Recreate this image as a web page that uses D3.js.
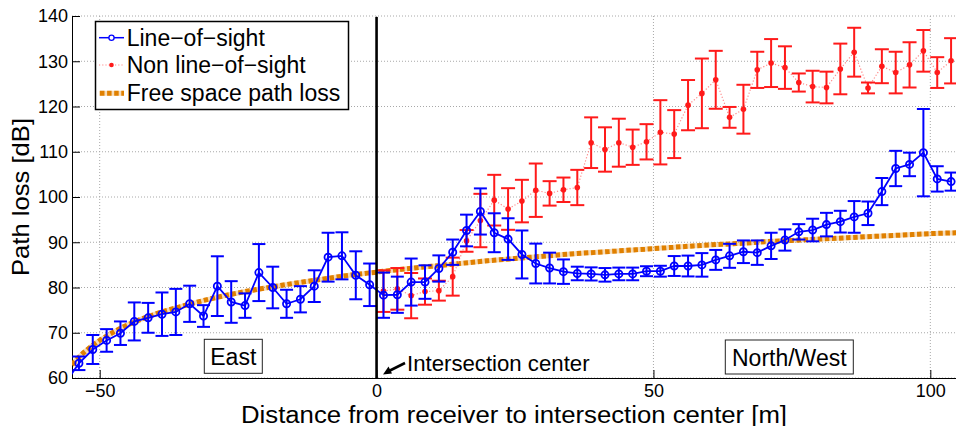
<!DOCTYPE html>
<html><head><meta charset="utf-8">
<script src="https://cdn.jsdelivr.net/npm/d3@7/dist/d3.min.js"></script>
<style>
body{margin:0;background:#fff;}
svg{display:block;font-family:"Liberation Sans",Arial,Helvetica,sans-serif;}
</style></head>
<body>
<svg id="c" width="956" height="426"></svg>
<script>
// ---------------- data ----------------
const xTicks = [-50, 0, 50, 100];
const xTickLabels = ["\u221250", "0", "50", "100"];
const yTicks = [60, 70, 80, 90, 100, 110, 120, 130, 140];
const yTickLabels = ["60","70","80","90","100","110","120","130","140"];

const losX = [-56.25,-53.75,-51.25,-48.75,-46.25,-43.75,-41.25,-38.75,-36.25,-33.75,-31.25,-28.75,-26.25,-23.75,-21.25,-18.75,-16.25,-13.75,-11.25,-8.75,-6.25,-3.75,-1.25,
  1.25,3.75,6.25,8.75,11.25,13.75,16.25,18.75,21.25,23.75,26.25,28.75,31.25,33.75,36.25,38.75,41.25,43.75,46.25,48.75,
  51.25,53.75,56.25,58.75,61.25,63.75,66.25,68.75,71.25,73.75,76.25,78.75,81.25,83.75,86.25,88.75,91.25,93.75,96.25,98.75,101.25,103.75];
const losY = [58.8,63.25,66.3,68.3,69.9,72.5,73.3,74.1,74.6,76.4,73.7,80.3,76.8,76.0,83.3,80.0,76.4,77.4,80.3,86.7,87.0,82.7,80.6,
  78.3,78.4,81.2,81.2,84.2,87.8,92.6,96.8,92.1,90.7,87.3,85.3,84.3,83.5,83.1,83.0,82.8,83.0,83.0,83.6,
  83.6,84.75,84.75,85.0,86.1,87.0,87.9,87.7,89.2,90.5,92.3,92.7,93.9,94.55,95.6,96.4,101.2,106.3,107.2,109.8,104.0,103.4];
const losErr = [0,1.5,3.2,2.5,2.6,4.2,3.3,4.8,5.1,4.0,2.4,6.6,4.6,2.7,6.3,4.6,3.1,2.9,3.5,5.4,5.2,5.3,4.7,
  5.0,4.0,5.2,3.7,2.9,2.8,3.5,5.1,4.3,4.6,5.3,4.4,3.4,2.7,1.5,1.45,1.5,1.4,1.4,1.1,
  1.2,2.2,2.3,2.6,2.2,2.65,2.5,2.7,2.9,2.35,1.7,2.5,2.6,2.4,3.5,2.6,3.0,3.9,2.6,9.65,2.8,2.0];

const nlosX = [1.25,3.75,6.25,8.75,11.25,13.75,16.25,18.75,21.25,23.75,26.25,28.75,31.25,33.75,36.25,38.75,41.25,43.75,46.25,48.75,
  51.25,53.75,56.25,58.75,61.25,63.75,66.25,68.75,71.25,73.75,76.25,78.75,81.25,83.75,86.25,88.75,91.25,93.75,96.25,98.75,101.25,103.75];
const nlosY = [79.2,79.7,78.2,79.1,79.3,82.4,90.3,94.8,99.3,97.35,99.1,101.5,100.8,101.6,102.1,112.0,110.5,112.0,111.0,112.2,
  114.3,113.9,120.3,122.9,125.9,117.6,119.4,128.1,129.6,128.6,125.3,124.4,124.2,128.3,132.0,124.1,128.9,127.5,129.2,132.3,127.5,130.1];
const nlosErr = [4.6,4.6,5.0,2.9,2.2,4.2,2.4,5.9,5.6,4.6,4.7,5.9,2.7,2.7,3.9,5.6,4.9,5.3,3.9,3.9,
  7.1,5.3,5.55,7.7,6.4,2.3,5.4,4.0,5.3,4.7,2.0,3.5,3.5,5.6,5.4,1.2,3.75,4.6,5.0,4.6,3.4,5.0];

const fsplX = [-55,-53.75,-52.5,-50,-47.5,-45,-40,-35,-30,-25,-20,-15,-10,-5,0,5,10,15,20,25,30,35,40,45,50,55,60,65,70,75,80,85,90,95,100,105];
const fsplY = [62.9,64.6,66.0,68.3,70.15,71.7,74.1,75.9,77.5,78.8,79.9,80.9,81.8,82.7,83.4,84.1,84.7,85.3,85.9,86.4,86.9,87.4,87.8,88.2,88.6,89.0,89.4,89.7,90.1,90.4,90.7,91.0,91.3,91.6,91.9,92.1];

const seriesNames = ["Line\u2212of\u2212sight", "Non line\u2212of\u2212sight", "Free space path loss"];
const regionLabels = ["East", "North/West"];
const xLabel = "Distance from receiver to intersection center [m]";
const yLabel = "Path loss [dB]";
const annotation = "Intersection center";

// ---------------- chart ----------------
const BLUE = "#0000ff", RED = "#ff1a1a", ORANGE = "#e08000";
const svg = d3.select("#c");
const L = 72, R = 958, T = 16, B = 378;
const x = d3.scaleLinear().domain([-55, 105]).range([L, R]);
const y = d3.scaleLinear().domain([60, 140]).range([B, T]);

svg.append("defs").append("clipPath").attr("id","clip")
  .append("rect").attr("x", L).attr("y", T-2).attr("width", R-L).attr("height", B-T+2);

// grid
const grid = svg.append("g");
grid.selectAll(".gy").data(yTicks).join("line")
  .attr("x1", L).attr("x2", 956).attr("y1", d=>y(d)).attr("y2", d=>y(d))
  .attr("stroke", "#a8a8a8").attr("stroke-width", 1).attr("stroke-dasharray", "1,2");
grid.selectAll(".gx").data(xTicks).join("line")
  .attr("x1", d=>x(d)).attr("x2", d=>x(d)).attr("y1", T).attr("y2", B)
  .attr("stroke", "#a8a8a8").attr("stroke-width", 1).attr("stroke-dasharray", "1,2");

// axes
const yAxis = d3.axisLeft(y).tickValues(yTicks).tickFormat((d,i)=>yTickLabels[i]).tickSize(-8).tickSizeOuter(0).tickPadding(4);
const gy = svg.append("g").attr("transform", `translate(${L},0)`).call(yAxis);
const xAxis = d3.axisBottom(x).tickValues(xTicks).tickFormat((d,i)=>xTickLabels[i]).tickSize(-8).tickSizeOuter(0).tickPadding(6.5);
const gx = svg.append("g").attr("transform", `translate(0,${B})`).call(xAxis);
[gx, gy].forEach(g=>{
  g.selectAll("text").attr("font-size", 18).attr("fill", "#000").attr("font-family", null);
  g.selectAll("line,path").attr("stroke", "#000");
  g.attr("font-family", null);
});
gx.select(".domain").attr("d", `M${L},0.5H956`);

const plot = svg.append("g").attr("clip-path", "url(#clip)");

// FSPL
const fsplData = fsplX.map((d,i)=>[d, fsplY[i]]);
const fLine = d3.line().x(d=>x(d[0])).y(d=>y(d[1])).curve(d3.curveMonotoneX);
plot.append("path").attr("d", fLine(fsplData)).attr("fill","none")
  .attr("stroke", ORANGE).attr("stroke-opacity", 0.28).attr("stroke-width", 5);
plot.append("path").attr("d", fLine(fsplData)).attr("fill","none")
  .attr("stroke", ORANGE).attr("stroke-width", 5).attr("stroke-dasharray", "4.5,2.6");

// NLOS
const nlosData = nlosX.map((d,i)=>({x:d, y:nlosY[i], e:nlosErr[i]}));
plot.append("path").attr("d", d3.line().x(d=>x(d.x)).y(d=>y(d.y))(nlosData))
  .attr("fill","none").attr("stroke", "#ff8a8a").attr("stroke-width", 1.2).attr("stroke-dasharray", "1.2,2");
const ne = plot.append("g").attr("stroke", RED).attr("stroke-width", 2);
nlosData.forEach(d=>{
  ne.append("line").attr("x1", x(d.x)).attr("x2", x(d.x)).attr("y1", y(d.y-d.e)).attr("y2", y(d.y+d.e));
  ne.append("line").attr("x1", x(d.x)-7).attr("x2", x(d.x)+7).attr("y1", y(d.y-d.e)).attr("y2", y(d.y-d.e));
  ne.append("line").attr("x1", x(d.x)-7).attr("x2", x(d.x)+7).attr("y1", y(d.y+d.e)).attr("y2", y(d.y+d.e));
});
plot.append("g").selectAll("circle").data(nlosData).join("circle")
  .attr("cx", d=>x(d.x)).attr("cy", d=>y(d.y)).attr("r", 2.8).attr("fill", RED);

// LOS
const losData = losX.map((d,i)=>({x:d, y:losY[i], e:losErr[i]}));
const le = plot.append("g").attr("stroke", BLUE).attr("stroke-width", 2);
losData.forEach(d=>{
  if (!d.e) return;
  le.append("line").attr("x1", x(d.x)).attr("x2", x(d.x)).attr("y1", y(d.y-d.e)).attr("y2", y(d.y+d.e));
  le.append("line").attr("x1", x(d.x)-6.5).attr("x2", x(d.x)+6.5).attr("y1", y(d.y-d.e)).attr("y2", y(d.y-d.e));
  le.append("line").attr("x1", x(d.x)-6.5).attr("x2", x(d.x)+6.5).attr("y1", y(d.y+d.e)).attr("y2", y(d.y+d.e));
});
plot.append("path").attr("d", d3.line().x(d=>x(d.x)).y(d=>y(d.y))(losData))
  .attr("fill","none").attr("stroke", BLUE).attr("stroke-width", 1.8);
plot.append("g").selectAll("circle").data(losData).join("circle")
  .attr("cx", d=>x(d.x)).attr("cy", d=>y(d.y)).attr("r", 3.6)
  .attr("fill", "none").attr("stroke", BLUE).attr("stroke-width", 1.8);

// vertical line at 0
svg.append("line").attr("x1", x(0)).attr("x2", x(0)).attr("y1", T+1).attr("y2", B)
  .attr("stroke", "#000").attr("stroke-width", 2.6);

// region labels
function boxLabel(cx, cy, w, h, txt){
  svg.append("rect").attr("x", cx-w/2).attr("y", cy-h/2).attr("width", w).attr("height", h)
    .attr("fill", "#fff").attr("stroke", "#222").attr("stroke-width", 1);
  svg.append("text").attr("x", cx).attr("y", cy+8.5).attr("text-anchor", "middle")
    .attr("font-size", 23).text(txt);
}
boxLabel(233.3, 356.3, 58, 34, regionLabels[0]);
boxLabel(789.3, 357, 128, 34, regionLabels[1]);

// annotation
svg.append("text").attr("x", 407).attr("y", 370.5).attr("font-size", 22.2).text(annotation);
svg.append("line").attr("x1", 405).attr("y1", 363).attr("x2", 389).attr("y2", 371)
  .attr("stroke", "#000").attr("stroke-width", 2.6);
svg.append("path").attr("d", "M383,374.5 L388.5,366.5 L392,373.5 Z").attr("fill", "#000");

// axis labels
svg.append("text").attr("x", 514).attr("y", 422.5).attr("text-anchor", "middle")
  .attr("font-size", 23.5).attr("textLength", 546).attr("lengthAdjust", "spacingAndGlyphs").text(xLabel);
svg.append("text").attr("transform", "translate(29,197) rotate(-90)").attr("text-anchor", "middle")
  .attr("font-size", 24.5).attr("textLength", 158).attr("lengthAdjust", "spacingAndGlyphs").text(yLabel);

// legend
const lg = svg.append("g");
lg.append("rect").attr("x", 95.5).attr("y", 21.5).attr("width", 253).attr("height", 88)
  .attr("fill", "#fff").attr("stroke", "#000").attr("stroke-width", 1.5);
const rows = [37.7, 65, 93.3];
// LOS sample
lg.append("line").attr("x1", 99).attr("x2", 124).attr("y1", rows[0]).attr("y2", rows[0]).attr("stroke", BLUE).attr("stroke-width", 1.5);
lg.append("circle").attr("cx", 111.5).attr("cy", rows[0]).attr("r", 2.6).attr("fill", "#fff").attr("stroke", BLUE).attr("stroke-width", 1.3);
// NLOS sample
lg.append("line").attr("x1", 99).attr("x2", 124).attr("y1", rows[1]).attr("y2", rows[1]).attr("stroke", "#ff8a8a").attr("stroke-width", 1.2).attr("stroke-dasharray", "1.2,2");
lg.append("circle").attr("cx", 111.5).attr("cy", rows[1]).attr("r", 2.3).attr("fill", RED);
// FSPL sample
lg.append("line").attr("x1", 99).attr("x2", 124).attr("y1", rows[2]).attr("y2", rows[2]).attr("stroke", ORANGE).attr("stroke-opacity", 0.28).attr("stroke-width", 5);
lg.append("line").attr("x1", 100).attr("x2", 124).attr("y1", rows[2]).attr("y2", rows[2]).attr("stroke", ORANGE).attr("stroke-width", 5).attr("stroke-dasharray", "4.5,2.6");
seriesNames.forEach((s,i)=>{
  lg.append("text").attr("x", 126.7).attr("y", rows[i]+8).attr("font-size", 23).text(s);
});
</script>
</body></html>
